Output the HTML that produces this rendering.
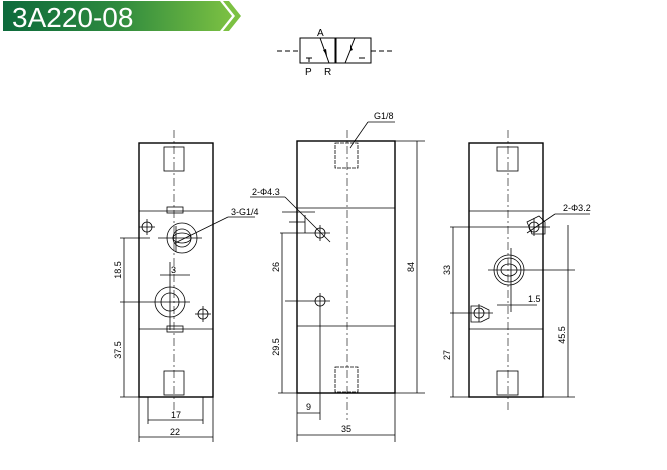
<!DOCTYPE html>
<html><head><meta charset="utf-8"><style>
html,body{margin:0;padding:0;background:#fff;width:667px;height:470px;overflow:hidden}
svg{display:block}
text{font-family:"Liberation Sans",sans-serif}
</style></head><body>
<svg width="667" height="470" viewBox="0 0 667 470" xmlns="http://www.w3.org/2000/svg">
<defs>
<linearGradient id="g" x1="0" x2="1" y1="0" y2="0">
<stop offset="0" stop-color="#0d6a3c"/><stop offset="0.5" stop-color="#2e8a3e"/><stop offset="1" stop-color="#7cc142"/>
</linearGradient>
</defs>
<!-- header -->
<polygon points="3,1 220,1 232,16 220,31 3,31" fill="url(#g)"/>
<polygon points="223,1 229,1 241,16 229,31 223,31 235,16" fill="#7cc142"/>
<text x="12" y="27" font-size="28" fill="#fff">3A220-08</text>

<!-- symbol -->
<g stroke="#000" stroke-width="1" fill="none">
<line x1="277" y1="51" x2="300" y2="51" stroke-dasharray="5,3"/>
<line x1="371" y1="51" x2="395" y2="51" stroke-dasharray="5,3"/>
<rect x="300" y="38" width="35" height="25"/>
<rect x="336" y="38" width="35" height="25"/>
<line x1="320" y1="38" x2="329" y2="63"/>
<line x1="355" y1="38" x2="345" y2="63"/>
<line x1="306" y1="58" x2="312" y2="58"/><line x1="309" y1="58" x2="309" y2="62"/>
<line x1="359" y1="58" x2="365" y2="58"/>
</g>
<polygon points="327,56 323,50 326,49" fill="#000"/>
<polygon points="350,44 353,50 350,51" fill="#000"/>
<text x="317" y="36" font-size="10">A</text>
<text x="305" y="75" font-size="10">P</text>
<text x="324" y="75" font-size="10">R</text>

<g stroke="#000" fill="none" stroke-width="0.8">
<!-- LEFT VIEW -->
<rect x="139" y="143" width="74" height="254" stroke-width="1.4"/>
<line x1="139" y1="211" x2="213" y2="211"/>
<line x1="139" y1="329" x2="213" y2="329"/>
<line x1="174" y1="130" x2="174" y2="410" stroke-dasharray="8,3,2,3" stroke-width="0.6"/>
<rect x="164" y="147" width="20" height="24"/>
<rect x="164" y="371" width="20" height="24"/>
<rect x="167" y="207" width="16" height="6"/>
<rect x="167" y="326" width="16" height="6"/>
<circle cx="182" cy="238" r="15"/><circle cx="182" cy="238" r="9"/>
<ellipse cx="182" cy="238" rx="9" ry="5"/>
<circle cx="170" cy="302" r="15"/><circle cx="170" cy="302" r="9"/>
<circle cx="147" cy="227" r="5"/><circle cx="203" cy="314" r="5"/>
<line x1="158" y1="238" x2="202" y2="238"/><line x1="176" y1="226" x2="176" y2="252"/>
<line x1="120" y1="238" x2="150" y2="238"/>
<line x1="120" y1="302" x2="190" y2="302"/><line x1="170" y1="262" x2="170" y2="330"/>
<line x1="139" y1="227" x2="155" y2="227"/><line x1="147" y1="219" x2="147" y2="235"/>
<line x1="195" y1="314" x2="211" y2="314"/><line x1="203" y1="306" x2="203" y2="322"/>
<line x1="124" y1="238" x2="124" y2="397"/>
<line x1="120" y1="397" x2="139" y2="397"/>
<line x1="160" y1="275" x2="190" y2="275"/>
<line x1="228" y1="217" x2="175" y2="243" stroke-width="0.8"/>
<line x1="228" y1="217" x2="255" y2="217"/>
<line x1="148" y1="397" x2="148" y2="424"/><line x1="203" y1="397" x2="203" y2="424"/>
<line x1="148" y1="420" x2="203" y2="420"/>
<line x1="139" y1="397" x2="139" y2="442"/><line x1="213" y1="397" x2="213" y2="442"/>
<line x1="139" y1="437" x2="213" y2="437"/>

<!-- MIDDLE VIEW -->
<rect x="297" y="141" width="98" height="252" stroke-width="1.4"/>
<line x1="297" y1="208" x2="395" y2="208"/>
<line x1="297" y1="326" x2="395" y2="326"/>
<line x1="347" y1="130" x2="347" y2="420" stroke-dasharray="8,3,2,3" stroke-width="0.6"/>
<rect x="335" y="143" width="23" height="25" stroke-dasharray="4,1"/>
<rect x="335" y="367" width="23" height="25" stroke-dasharray="4,1"/>
<circle cx="320" cy="233" r="5"/><circle cx="320" cy="301" r="5"/>
<line x1="312" y1="233" x2="330" y2="233"/><line x1="320" y1="225" x2="320" y2="241"/>
<line x1="285" y1="301" x2="330" y2="301"/><line x1="320" y1="293" x2="320" y2="420"/>
<line x1="280" y1="233" x2="312" y2="233"/>
<line x1="289" y1="222" x2="305" y2="222"/><line x1="305" y1="215" x2="305" y2="233"/>
<line x1="282" y1="233" x2="282" y2="393"/>
<line x1="278" y1="393" x2="297" y2="393"/>
<line x1="282" y1="212" x2="315" y2="212"/>
<line x1="285" y1="197" x2="330" y2="242"/>
<line x1="250" y1="197" x2="285" y2="197"/>
<line x1="395" y1="141" x2="425" y2="141"/><line x1="395" y1="393" x2="425" y2="393"/>
<line x1="417" y1="141" x2="417" y2="393"/>
<line x1="350" y1="148" x2="368" y2="122"/><line x1="368" y1="122" x2="395" y2="122"/>
<line x1="297" y1="393" x2="297" y2="442"/><line x1="395" y1="393" x2="395" y2="442"/>
<line x1="297" y1="413" x2="320" y2="413"/>
<line x1="297" y1="435" x2="395" y2="435"/>

<!-- RIGHT VIEW -->
<rect x="469" y="143" width="74" height="254" stroke-width="1.4"/>
<line x1="469" y1="211" x2="543" y2="211"/>
<line x1="469" y1="329" x2="543" y2="329"/>
<line x1="508" y1="130" x2="508" y2="410" stroke-dasharray="8,3,2,3" stroke-width="0.6"/>
<rect x="497" y="147" width="21" height="24"/>
<rect x="497" y="371" width="21" height="24"/>
<circle cx="509" cy="270" r="15"/><circle cx="509" cy="270" r="12"/>
<ellipse cx="509" cy="270" rx="8" ry="6"/>
<circle cx="534" cy="227" r="5"/><circle cx="479" cy="313" r="5"/>
<path d="M527,222 l12,-6 l6,6 v12 h-13 z"/>
<path d="M471,306 h10 l8,4 v8 l-8,4 h-10 z"/>
<line x1="450" y1="227" x2="550" y2="227"/><line x1="534" y1="218" x2="534" y2="236"/>
<line x1="450" y1="313" x2="493" y2="313"/><line x1="479" y1="304" x2="479" y2="322"/>
<line x1="488" y1="270" x2="575" y2="270"/><line x1="511" y1="248" x2="511" y2="312"/>
<line x1="453" y1="227" x2="453" y2="397"/>
<line x1="450" y1="397" x2="469" y2="397"/><line x1="543" y1="397" x2="575" y2="397"/>
<line x1="568" y1="225" x2="568" y2="397"/>
<line x1="497" y1="305" x2="537" y2="305"/>
<line x1="527" y1="233" x2="555" y2="214"/><line x1="555" y1="214" x2="590" y2="214"/>
</g>
<g font-size="9" fill="#000">
<text x="231" y="215">3-G1/4</text>
<text x="252" y="195">2-Φ4.3</text>
<text x="374" y="119">G1/8</text>
<text x="563" y="211">2-Φ3.2</text>
<text x="171" y="273">3</text>
<text x="171" y="418">17</text>
<text x="170" y="435">22</text>
<text x="306" y="410">9</text>
<text x="341" y="432">35</text>
<text x="528" y="302">1.5</text>
<text transform="translate(121,270) rotate(-90)" text-anchor="middle">18.5</text>
<text transform="translate(121,350) rotate(-90)" text-anchor="middle">37.5</text>
<text transform="translate(279,267) rotate(-90)" text-anchor="middle">26</text>
<text transform="translate(279,347) rotate(-90)" text-anchor="middle">29.5</text>
<text transform="translate(414,267) rotate(-90)" text-anchor="middle">84</text>
<text transform="translate(450,270) rotate(-90)" text-anchor="middle">33</text>
<text transform="translate(450,355) rotate(-90)" text-anchor="middle">27</text>
<text transform="translate(565,335) rotate(-90)" text-anchor="middle">45.5</text>
</g>
</svg>
</body></html>
